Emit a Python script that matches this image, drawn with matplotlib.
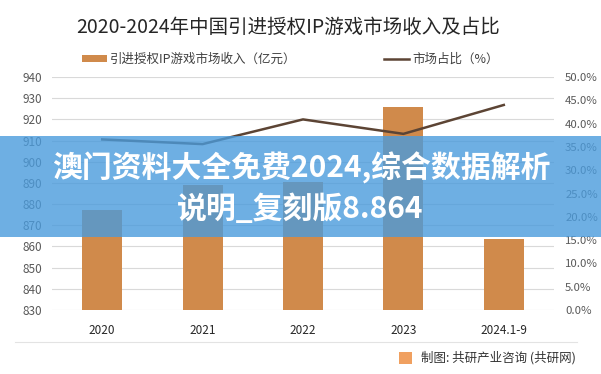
import matplotlib
matplotlib.use("Agg")
import matplotlib.pyplot as plt
from matplotlib.patches import Patch, Rectangle
from matplotlib.lines import Line2D
from matplotlib.ticker import FuncFormatter, MultipleLocator

plt.rcParams['font.family'] = ['Noto Sans CJK SC', 'DejaVu Sans']

categories = ["2020", "2021", "2022", "2023", "2024.1-9"]
revenue = [877.0, 889.2, 890.5, 925.8, 863.5]
share = [36.6, 35.6, 40.9, 37.8, 44.0]

title = "2020-2024年中国引进授权IP游戏市场收入及占比"
bar_label = "引进授权IP游戏市场收入（亿元）"
line_label = "市场占比（%）"
footer = "制图: 共研产业咨询 (共研网)"
banner_lines = ["澳门资料大全免费2024,综合数据解析", "说明_复刻版8.864"]

W, H = 601, 374
fig = plt.figure(figsize=(W / 100, H / 100), dpi=100)
fig.patch.set_facecolor("white")

ax = fig.add_axes([52 / W, 1 - 310 / H, (554 - 52) / W, (310 - 77) / H])
x = list(range(len(categories)))
bar_color = "#D08A4B"
line_color = "#5C4434"
ax.bar(x, revenue, width=0.4, color=bar_color, zorder=2)
ax.set_ylim(830, 940)
ax.yaxis.set_major_locator(MultipleLocator(10))
ax.set_xlim(-0.5, len(categories) - 0.5)
ax.set_xticks(x)
ax.set_xticklabels(categories)
ax.grid(axis='y', color="#D9D9D9", linewidth=0.8, zorder=0)
ax.set_axisbelow(True)
for s in ax.spines.values():
    s.set_visible(False)
ax.tick_params(axis='both', length=0, labelsize=8.5, colors="#595959")
ax.tick_params(axis='x', pad=10, colors="#262626")
ax.tick_params(axis='y', pad=7)

ax2 = ax.twinx()
ax2.plot(x, share, color=line_color, linewidth=1.8, zorder=3)
ax2.set_ylim(0, 50)
ax2.yaxis.set_major_locator(MultipleLocator(5))
ax2.yaxis.set_major_formatter(FuncFormatter(lambda v, p: f"{v:.1f}%"))
for s in ax2.spines.values():
    s.set_visible(False)
ax2.tick_params(axis='y', length=0, labelsize=8.2, colors="#595959", pad=8)

fig.text(288 / W, 1 - 27 / H, title, ha='center', va='center', fontsize=14, color="#262626")

handles = [Patch(facecolor=bar_color, edgecolor='none'),
           Line2D([0], [0], color=line_color, linewidth=1.8)]
fig.legend(handles, [bar_label, line_label], loc='center left',
           bbox_to_anchor=(82 / W, 1 - 59 / H), ncol=2, frameon=False,
           fontsize=9, handlelength=2.0, handleheight=0.5, handletextpad=0.25,
           columnspacing=7.0, borderpad=0, borderaxespad=0, labelcolor="#404040")

# footer separator and credit
fig.add_artist(Line2D([15 / W, 577 / W], [1 - 342 / H, 1 - 342 / H],
                      transform=fig.transFigure, color="#E3E3E3", linewidth=0.8))
fig.add_artist(Rectangle((399 / W, 1 - 364 / H), 13 / W, 12 / H,
                         transform=fig.transFigure, facecolor="#F0A060", edgecolor='none'))
fig.text(421 / W, 1 - 358 / H, footer, ha='left', va='center', fontsize=9, color="#333333")

# blue banner overlay
fig.add_artist(Rectangle((0, 1 - 237 / H), 1, (237 - 136) / H, transform=fig.transFigure,
                         facecolor="#4A9BDC", edgecolor='none', alpha=0.8, zorder=10))
fig.text(301 / W, 1 - 168 / H, banner_lines[0], ha='center', va='center', fontsize=21.5,
         fontweight='bold', color='white', zorder=11)
fig.text(300 / W, 1 - 209 / H, banner_lines[1], ha='center', va='center', fontsize=21.5,
         fontweight='bold', color='white', zorder=11)

fig.savefig("out.png", dpi=100, facecolor="white")
